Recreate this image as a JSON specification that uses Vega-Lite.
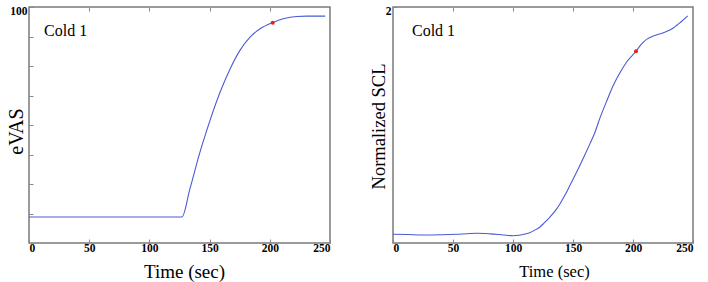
{
  "$schema": "https://vega.github.io/schema/vega-lite/v6.json",
  "background": "white",
  "padding": {"left": 5, "top": 4, "right": 0, "bottom": 0},
  "bounds": "flush",
  "spacing": 63,
  "config": {
    "font": "Liberation Serif",
    "view": {"stroke": "#7a7a7a", "strokeWidth": 1.5},
    "axis": {
      "domain": false,
      "grid": false,
      "ticks": true,
      "tickSize": -4,
      "tickColor": "#888888",
      "tickWidth": 1,
      "labelFont": "Liberation Serif",
      "labelFontWeight": "bold",
      "labelFontSize": 11.5,
      "labelColor": "#000000",
      "titleFont": "Liberation Serif",
      "titleFontWeight": 400,
      "titleColor": "#000000"
    }
  },
  "datasets": {
    "evas": [
      {"t": 0, "v": 28.8},
      {"t": 127, "v": 28.8},
      {"t": 133.7, "v": 38.4},
      {"t": 142, "v": 50.8},
      {"t": 150.3, "v": 61.5},
      {"t": 158.6, "v": 71.0},
      {"t": 167, "v": 79.0},
      {"t": 175.2, "v": 85.3},
      {"t": 183.6, "v": 89.8},
      {"t": 191.9, "v": 92.6},
      {"t": 202.4, "v": 94.7},
      {"t": 211.2, "v": 96.0},
      {"t": 222.3, "v": 96.8},
      {"t": 230.6, "v": 96.9},
      {"t": 246, "v": 96.9}
    ],
    "evas_mark": [{"t": 202.4, "v": 94.7}],
    "scl": [
      {"t": 0, "v": 0.074},
      {"t": 12, "v": 0.072},
      {"t": 25, "v": 0.068},
      {"t": 40, "v": 0.07},
      {"t": 53, "v": 0.074},
      {"t": 62, "v": 0.079},
      {"t": 70, "v": 0.082},
      {"t": 81, "v": 0.077},
      {"t": 92, "v": 0.068},
      {"t": 100, "v": 0.062},
      {"t": 105, "v": 0.066},
      {"t": 110, "v": 0.076},
      {"t": 114, "v": 0.087},
      {"t": 118, "v": 0.108},
      {"t": 122.5, "v": 0.136},
      {"t": 126, "v": 0.17},
      {"t": 130.8, "v": 0.22},
      {"t": 135, "v": 0.27},
      {"t": 139.2, "v": 0.333},
      {"t": 143, "v": 0.4},
      {"t": 147.5, "v": 0.489},
      {"t": 151.5, "v": 0.57},
      {"t": 155.8, "v": 0.659},
      {"t": 160, "v": 0.75},
      {"t": 164.2, "v": 0.842},
      {"t": 168, "v": 0.93},
      {"t": 172.5, "v": 1.06},
      {"t": 178, "v": 1.2},
      {"t": 183.6, "v": 1.336},
      {"t": 189, "v": 1.44},
      {"t": 194.7, "v": 1.534},
      {"t": 202.5, "v": 1.625},
      {"t": 205, "v": 1.66},
      {"t": 208.6, "v": 1.703},
      {"t": 212, "v": 1.73},
      {"t": 216.9, "v": 1.754},
      {"t": 225.3, "v": 1.782},
      {"t": 233.6, "v": 1.822},
      {"t": 237, "v": 1.85},
      {"t": 240.6, "v": 1.879},
      {"t": 245.6, "v": 1.924}
    ],
    "scl_mark": [{"t": 202.5, "v": 1.625}],
    "label": [{"text": "Cold 1"}]
  },
  "hconcat": [
    {
      "width": 301,
      "height": 236,
      "layer": [
        {
          "data": {"name": "evas"},
          "mark": {"type": "line", "color": "#4a5bd5", "strokeWidth": 1.1, "interpolate": "monotone"},
          "encoding": {
            "x": {
              "field": "t", "type": "quantitative",
              "scale": {"domain": [0, 250], "nice": false},
              "axis": {"orient": "bottom", "values": [0, 50, 100, 150, 200, 250], "labelPadding": 3,
                       "title": "Time (sec)", "titleFontSize": 19, "titleFontWeight": 400, "titleX": 155, "titleY": 28,
                       "titleBaseline": "middle", "titleAlign": "center"}
            },
            "y": {
              "field": "v", "type": "quantitative",
              "scale": {"domain": [20, 100], "nice": false},
              "axis": {"orient": "left", "values": [30, 40, 50, 60, 70, 80, 90, 100],
                       "labelExpr": "datum.value == 100 ? '100' : ''", "labelOffset": 4, "labelPadding": 6,
                       "title": "eVAS", "titleFontSize": 20, "titleFontWeight": 400, "titleAngle": -90, "titleX": -13, "titleY": 124,
                       "titleBaseline": "middle", "titleAlign": "center"}
            }
          }
        },
        {
          "data": {"name": "evas_mark"},
          "mark": {"type": "point", "filled": true, "color": "#e3241c", "size": 16, "opacity": 1},
          "encoding": {
            "x": {"field": "t", "type": "quantitative",
                  "axis": {"orient": "top", "values": [50, 100, 150, 200], "labels": false, "title": null}},
            "y": {"field": "v", "type": "quantitative", "axis": null}
          }
        },
        {
          "data": {"name": "label"},
          "mark": {"type": "text", "fontSize": 16, "align": "left", "baseline": "middle", "font": "Liberation Serif", "color": "#000000"},
          "encoding": {
            "x": {"datum": 12.5, "type": "quantitative", "axis": null},
            "y": {"datum": 92, "type": "quantitative", "axis": null},
            "text": {"field": "text"}
          }
        }
      ],
      "resolve": {"axis": {"x": "independent", "y": "independent"}}
    },
    {
      "width": 300,
      "height": 236,
      "layer": [
        {
          "data": {"name": "scl"},
          "mark": {"type": "line", "color": "#4a5bd5", "strokeWidth": 1.1, "interpolate": "monotone"},
          "encoding": {
            "x": {
              "field": "t", "type": "quantitative",
              "scale": {"domain": [0, 250], "nice": false},
              "axis": {"orient": "bottom", "values": [0, 50, 100, 150, 200, 250], "labelPadding": 3,
                       "title": "Time (sec)", "titleFontSize": 16.5, "titleFontWeight": 400, "titleX": 161, "titleY": 28,
                       "titleBaseline": "middle", "titleAlign": "center"}
            },
            "y": {
              "field": "v", "type": "quantitative",
              "scale": {"domain": [0, 2], "nice": false},
              "axis": {"orient": "left", "values": [2], "labelOffset": 4, "labelPadding": 6,
                       "title": "Normalized SCL", "titleFontSize": 18.5, "titleFontWeight": 400, "titleAngle": -90, "titleX": -14.5, "titleY": 119,
                       "titleBaseline": "middle", "titleAlign": "center"}
            }
          }
        },
        {
          "data": {"name": "scl_mark"},
          "mark": {"type": "point", "filled": true, "color": "#e3241c", "size": 16, "opacity": 1},
          "encoding": {
            "x": {"field": "t", "type": "quantitative",
                  "axis": {"orient": "top", "values": [50, 100, 150, 200], "labels": false, "title": null}},
            "y": {"field": "v", "type": "quantitative", "axis": null}
          }
        },
        {
          "data": {"name": "label"},
          "mark": {"type": "text", "fontSize": 16, "align": "left", "baseline": "middle", "font": "Liberation Serif", "color": "#000000"},
          "encoding": {
            "x": {"datum": 15.8, "type": "quantitative", "axis": null},
            "y": {"datum": 1.797, "type": "quantitative", "axis": null},
            "text": {"field": "text"}
          }
        }
      ],
      "resolve": {"axis": {"x": "independent", "y": "independent"}}
    }
  ]
}
